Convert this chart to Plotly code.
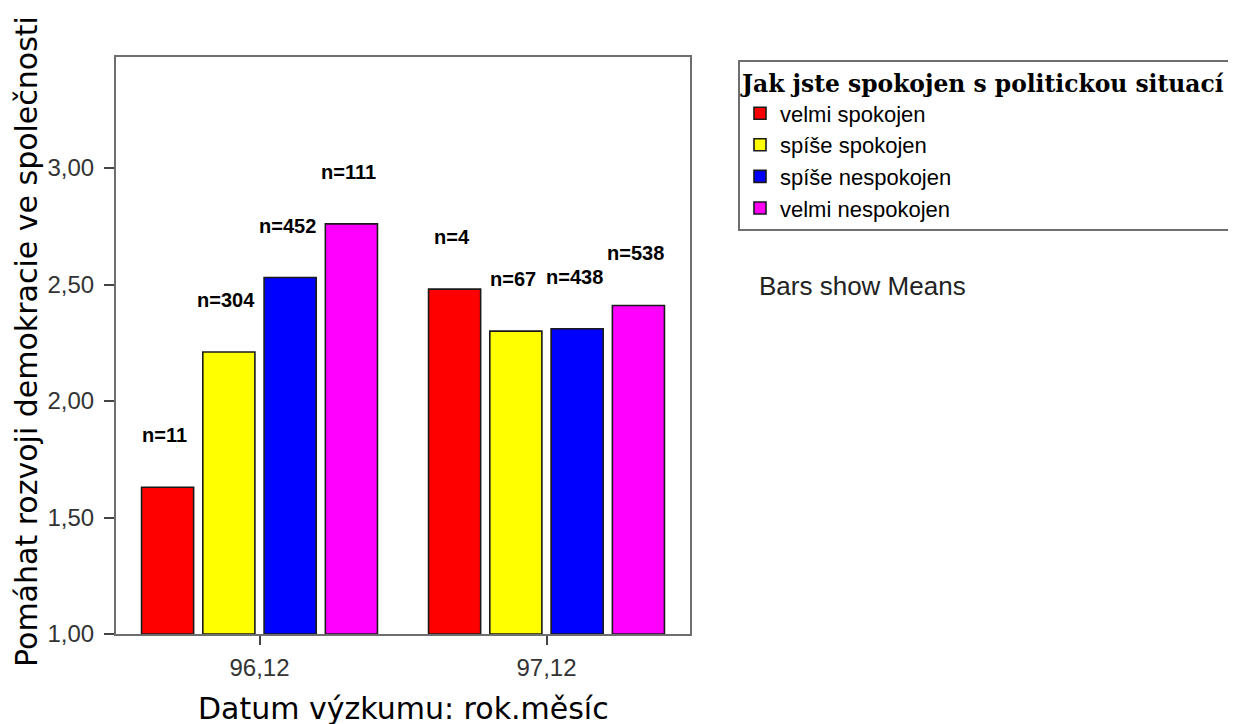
import plotly.graph_objects as go

categories = ["96,12", "97,12"]
series_names = ["velmi spokojen", "spíše spokojen", "spíše nespokojen", "velmi nespokojen"]
series_colors = ["#ff0000", "#ffff00", "#0000ff", "#ff00ff"]
means = [
    [1.63, 2.48],
    [2.21, 2.30],
    [2.53, 2.31],
    [2.76, 2.41],
]
counts = [
    ["n=11", "n=4"],
    ["n=304", "n=67"],
    ["n=452", "n=438"],
    ["n=111", "n=538"],
]
y_ticks = [1.0, 1.5, 2.0, 2.5, 3.0]
y_ticktext = ["1,00", "1,50", "2,00", "2,50", "3,00"]

bargap = 0.146
bargroupgap = 0.15
xpos = list(range(len(categories)))

# plot area in page pixels (reference)
PL, PR, PT, PB = 115, 689, 56, 633
PW, PH = PR - PL, PB - PT
OFF = 7  # page offset of the rendered figure


def px(x):
    return (x - PL) / PW


def py(y):
    return (PB - y) / PH


fig = go.Figure()
for i, name in enumerate(series_names):
    fig.add_trace(go.Bar(
        x=xpos, y=[v - 1.0 for v in means[i]], base=1.0, name=name,
        marker=dict(color=series_colors[i], line=dict(color="#1a1a1a", width=1.6)),
        legendgroup=name, hoverinfo="skip",
    ))

n = len(series_names)
slot = (1 - bargap) / n
for i in range(n):
    for j, c in enumerate(xpos):
        fig.add_annotation(
            x=c + (i - (n - 1) / 2) * slot, y=means[i][j], xref="x", yref="y",
            text="<b>" + counts[i][j] + "</b>", showarrow=False, yshift=52, xshift=-3,
            xanchor="center", yanchor="middle",
            font=dict(family="Liberation Sans, Arial", size=20, color="#000000"),
        )

fig.add_annotation(
    x=0.5, y=py(707), xref="paper", yref="paper", text="Datum výzkumu: rok.měsíc",
    showarrow=False, xanchor="center", yanchor="middle",
    font=dict(family="DejaVu Sans", size=30, color="#000000"),
)
fig.add_annotation(
    x=px(25), y=py(341), xref="paper", yref="paper",
    text="Pomáhat rozvoji demokracie ve společnosti", showarrow=False, textangle=-90,
    xanchor="center", yanchor="middle",
    font=dict(family="DejaVu Sans", size=30, color="#000000"),
)
fig.add_annotation(
    x=px(756), y=py(285), xref="paper", yref="paper",
    text="Bars show Means", showarrow=False, xanchor="left", yanchor="middle",
    font=dict(family="Liberation Sans, Arial", size=26, color="#222222"),
)

fig.update_layout(
    width=1236, height=724,
    margin=dict(l=PL - OFF, r=1236 - PR + OFF, t=PT - OFF, b=724 - PB + OFF, autoexpand=False),
    paper_bgcolor="#ffffff", plot_bgcolor="#ffffff",
    barmode="group", bargap=bargap, bargroupgap=bargroupgap,
    showlegend=True,
    legend=dict(
        x=px(737), y=py(59), xanchor="left", yanchor="top",
        bordercolor="#6e6e6e", borderwidth=2, bgcolor="#ffffff",
        title=dict(text="<b>Jak jste spokojen s politickou situací</b>",
                   font=dict(family="DejaVu Serif", size=23.4, color="#000000")),
        font=dict(family="Liberation Sans, Arial", size=22, color="#000000"),
        tracegroupgap=5, traceorder="normal",
    ),
    xaxis=dict(
        range=[-0.5, 1.5], tickvals=xpos, ticktext=categories,
        showline=True, linecolor="#6e6e6e", linewidth=2, mirror=True,
        ticks="outside", ticklen=9, tickcolor="#444444", tickwidth=2,
        showgrid=False, zeroline=False, ticklabelstandoff=2,
        tickfont=dict(family="Liberation Sans, Arial", size=24, color="#333333"),
    ),
    yaxis=dict(
        range=[1.0, 1.0 + (PB - PT) / 233.0], tickvals=y_ticks, ticktext=y_ticktext,
        showline=True, linecolor="#6e6e6e", linewidth=2, mirror=True,
        ticks="outside", ticklen=10, tickcolor="#444444", tickwidth=2,
        showgrid=False, zeroline=False, ticklabelstandoff=5,
        tickfont=dict(family="Liberation Sans, Arial", size=24, color="#333333"),
    ),
)

fig.write_html("out.html")
